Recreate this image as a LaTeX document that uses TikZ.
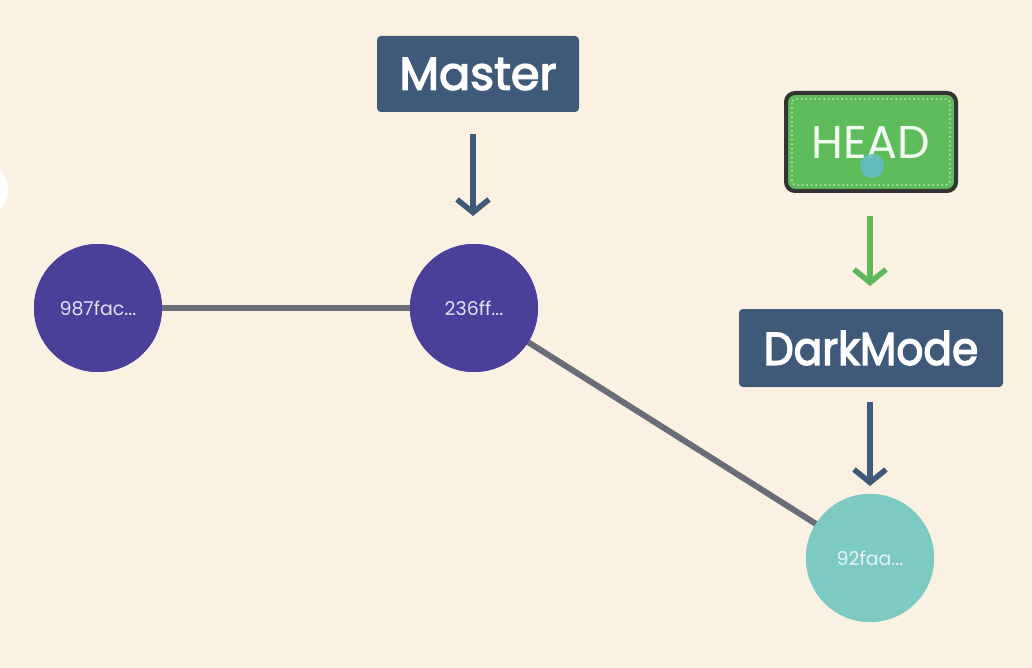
\documentclass[tikz,border=0pt]{standalone}
\usepackage{fontspec}
\setmainfont{Poppins}
\newfontfamily\branchfont[FakeBold=3]{Poppins}
\usetikzlibrary{arrows.meta}
\definecolor{bg}{HTML}{FAF1E2}
\definecolor{navy}{HTML}{3E5A78}
\definecolor{commitA}{HTML}{4A3F99}
\definecolor{commitB}{HTML}{7DCAC3}
\definecolor{edge}{HTML}{6A6D77}
\definecolor{headgreen}{HTML}{5FBC5B}
\definecolor{headarrow}{HTML}{5CB85A}
\definecolor{cursor}{HTML}{66BEC6}
\begin{document}
\begin{tikzpicture}[x=1pt,y=-1pt,
  commit/.style={circle,minimum size=128pt,inner sep=0pt,text=white!85!commitA,font=\fontsize{19}{19}\selectfont},
  branch/.style={rectangle,rounded corners=4pt,fill=navy,text=white,font=\branchfont\fontsize{46}{46}\selectfont,inner sep=0pt},
  ptr/.style={line width=5.5pt,-{Straight Barb[length=13pt,width=32pt,line width=5.5pt]}},
  link/.style={line width=6pt,draw=edge}]
\fill[bg] (0,0) rectangle (1032,668);
\useasboundingbox (0,0) rectangle (1032,668);
\fill[white] (-22,190) circle (30);
% branch labels
\node[branch,minimum width=202pt,minimum height=76pt] (master) at (478,74) {Master};
\node[branch,minimum width=264pt,minimum height=78pt] (dark) at (871,348) {\scalebox{0.92}[1]{DarkMode}};
\node[rectangle,rounded corners=9pt,fill=headgreen,draw=black!80,line width=4pt,minimum width=170pt,minimum height=98pt,text=white!92!headgreen,font=\fontsize{46}{46}\selectfont,inner sep=0pt] (head) at (871,142) {HEAD};
\draw[white!75!headgreen,line width=1.2pt,dash pattern=on 1.5pt off 3pt,rounded corners=4pt] ([shift={(8,8)}]head.north west) rectangle ([shift={(-8,-8)}]head.south east);
\fill[cursor,opacity=0.9] (872,166) circle (12);
% commits
\node[commit,fill=commitA] (c1) at (98,308) {};
\node[commit,fill=commitA] (c2) at (474,308) {};
\node[commit,fill=commitB] (c3) at (870,558) {};
% edges
\draw[link] (c1.center) -- (c2.center);
\draw[link] (c2.center) -- (c3.center);
\node[commit,fill=commitA] at (c1) {987fac...};
\node[commit,fill=commitA] at (c2) {236ff...};
\node[commit,fill=commitB,text=white!80!commitB] at (c3) {92faa...};
% pointers
\coordinate (m1) at (473,134);
\coordinate (m2) at (473,216);
\draw[ptr,navy] (m1) -- (m2);
\coordinate (h1) at (870,216);
\coordinate (h2) at (870,286);
\draw[ptr,headarrow] (h1) -- (h2);
\coordinate (d1) at (870,402);
\coordinate (d2) at (870,486);
\draw[ptr,navy] (d1) -- (d2);
\end{tikzpicture}
\end{document}
